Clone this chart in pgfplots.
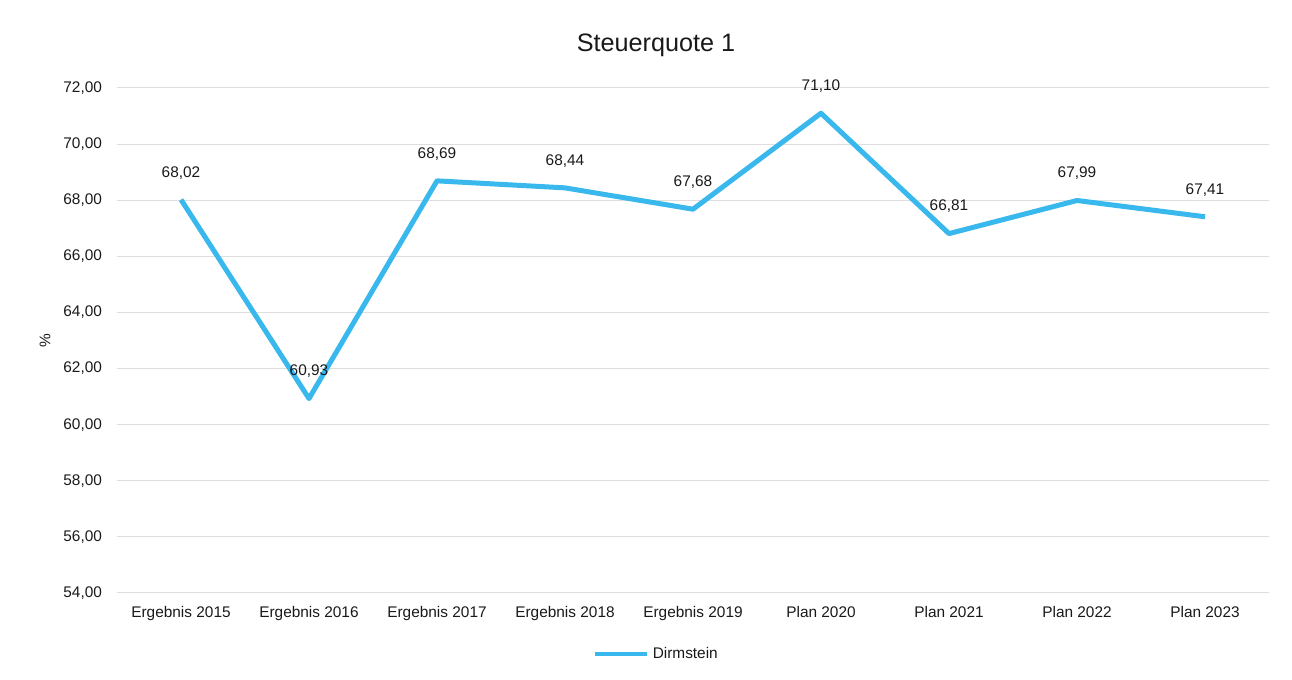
\documentclass[border=0pt]{standalone}
\usepackage{pgfplots}
\pgfplotsset{compat=1.18}
\usepackage{fontspec}
\setmainfont{Liberation Sans}
\definecolor{linecol}{RGB}{56,184,236}
\definecolor{gridcol}{RGB}{222,222,222}
\definecolor{txt}{RGB}{25,25,25}
\begin{document}
\begin{tikzpicture}[x=0.5pt,y=0.5pt]
\useasboundingbox (0,0) rectangle (1292,680);
\node[font=\fontsize{12.6}{14}\selectfont, text=txt] at (656,635) {Steuerquote 1};
\begin{axis}[
  at={(58.5pt,43.5pt)}, anchor=south west,
  scale only axis,
  width=576pt, height=252.5pt,
  xmin=-0.5, xmax=8.5,
  ymin=54, ymax=72,
  ytick={54,56,...,72},
  xtick={0,...,8},
  xticklabels={Ergebnis 2015,Ergebnis 2016,Ergebnis 2017,Ergebnis 2018,Ergebnis 2019,Plan 2020,Plan 2021,Plan 2022,Plan 2023},
  ymajorgrids,
  grid style={gridcol, line width=0.5pt},
  axis line style={draw=none},
  tick style={draw=none},
  /pgf/number format/assume math mode=true,
  ticklabel style={font=\fontsize{7.7}{9}\selectfont, text=txt},
  xticklabel style={yshift=-3pt},
  yticklabel style={xshift=-4pt},
  yticklabel style={/pgf/number format/.cd, fixed, fixed zerofill, precision=2, use comma, 1000 sep={}},
  ylabel={\%},
  ylabel style={at={(rel axis cs:-0.0625,0.5)}, anchor=center, font=\fontsize{7.7}{9}\selectfont, text=txt},
  nodes near coords,
  nodes near coords style={anchor=center, yshift=13.5pt, font=\fontsize{7.7}{9}\selectfont, text=txt,
    /pgf/number format/.cd, fixed, fixed zerofill, precision=2, use comma},
  legend style={at={(0.469,-0.121)}, anchor=center, draw=none, fill=none,
    font=\fontsize{7.7}{9}\selectfont, text=txt},
  legend image code/.code={\draw[#1, line width=2pt] (0pt,0pt) -- (26pt,0pt);},
]
\addplot[linecol, line width=2.5pt, line join=round, mark=none] coordinates {
(0,68.02) (1,60.93) (2,68.69) (3,68.44) (4,67.68) (5,71.10) (6,66.81) (7,67.99) (8,67.41)
};
\addlegendentry{Dirmstein}
\end{axis}
\end{tikzpicture}
\end{document}
